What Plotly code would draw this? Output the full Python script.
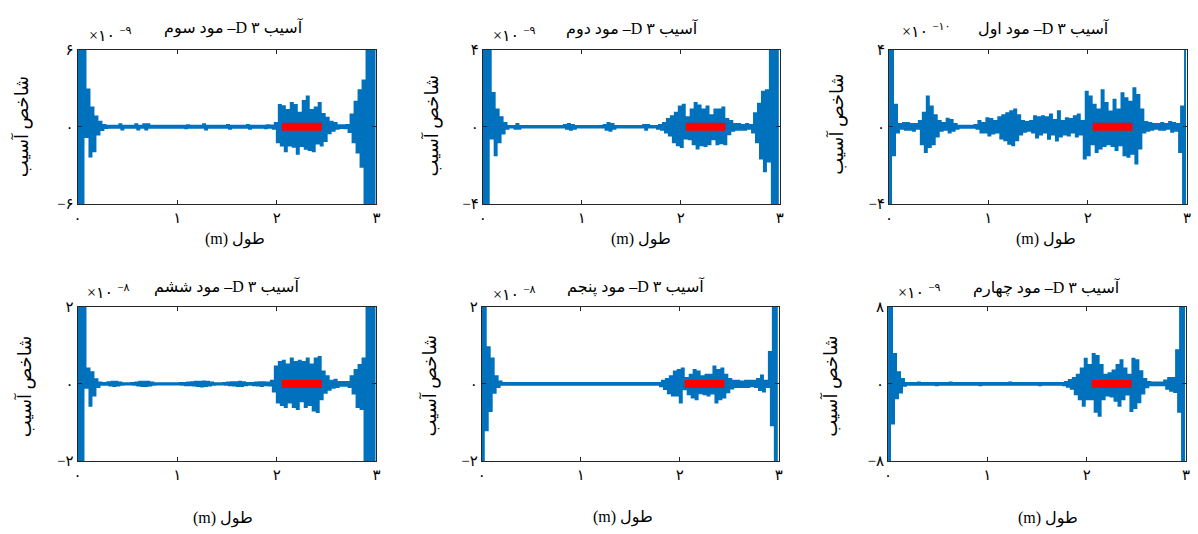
import numpy as np
import plotly.graph_objects as go

W, H = 1198, 534

# ---------------- data (values in units of the panel exponent) ----------------
STEP = 0.02  # sampling step along the beam (m)

mode3_vals = [
    9, -9, 9, -9, 9, -0.8, 2.9, -2.3, 1.5, -1.9,
    0.8, -0.6, 0.4, -0.25, 0.15, -0.1, 0.08, -0.08, 0.08, -0.08,
    0.08, -0.08, 0.2, -0.2, 0.08, -0.08, 0.08, -0.08, 0.08, -0.08,
    0.2, -0.2, 0.08, -0.08, 0.2, -0.2, 0.2, -0.08, 0.08, -0.08,
    0.08, -0.08, 0.08, -0.08, 0.08, -0.08, 0.08, -0.08, 0.08, -0.08,
    0.08, -0.08, 0.08, -0.08, 0.08, -0.12, 0.12, -0.08, 0.08, -0.08,
    0.08, -0.08, 0.08, -0.08, 0.2, -0.2, 0.08, -0.08, 0.08, -0.08,
    0.08, -0.08, 0.08, -0.08, 0.08, -0.08, 0.15, -0.15, 0.08, -0.08,
    0.08, -0.08, 0.08, -0.08, 0.08, -0.08, 0.15, -0.15, 0.08, -0.08,
    0.08, -0.08, 0.08, -0.08, 0.08, -0.12, 0.12, -0.08, 0.1, -0.15,
    0.3, -1.2, 1.7, -1.45, 1.6, -1.9, 1.3, -1.45, 1.85, -1.55,
    1.7, -2.1, 1.1, -1.5, 2.0, -1.7, 2.35, -1.8, 1.3, -1.9,
    1.5, -1.3, 1.85, -1.45, 1.0, -1.1, 0.7, -0.5, 0.4, -0.3,
    0.3, -0.15, 0.12, -0.1, 0.12, -0.12, 0.15, -0.4, 0.95, -1.2,
    1.95, -2.0, 2.85, -3.1, 3.6, -9, 9, -9, 9, -9,
    9,
]

mode2_vals = [
    9, -9, 9, -9, 9, -0.6, 1.75, -1.47, 0.9, -0.8,
    0.5, -0.35, 0.2, -0.1, 0.04, -0.04, 0.04, -0.1, 0.15, -0.1,
    0.04, -0.04, 0.04, -0.04, 0.04, -0.04, 0.04, -0.04, 0.04, -0.04,
    0.04, -0.04, 0.04, -0.04, 0.04, -0.04, 0.04, -0.04, 0.04, -0.04,
    0.04, -0.04, 0.1, -0.1, 0.15, -0.15, 0.1, -0.1, 0.04, -0.04,
    0.04, -0.04, 0.04, -0.04, 0.04, -0.04, 0.04, -0.04, 0.04, -0.04,
    0.04, -0.04, 0.1, -0.15, 0.2, -0.2, 0.15, -0.1, 0.04, -0.04,
    0.04, -0.04, 0.04, -0.04, 0.04, -0.04, 0.04, -0.04, 0.04, -0.04,
    0.04, -0.04, 0.1, -0.15, 0.1, -0.04, 0.04, -0.04, 0.04, -0.1,
    0.1, -0.15, 0.2, -0.3, 0.4, -0.45, 0.55, -0.8, 0.73, -0.96,
    1.06, -1.05, 1.15, -0.6, 0.5, -0.65, 0.9, -0.9, 1.23, -1.13,
    1.1, -0.96, 0.9, -1.0, 1.06, -0.9, 0.6, -0.65, 0.9, -0.9,
    0.9, -0.85, 1.0, -0.9, 0.4, -0.38, 0.3, -0.2, 0.15, -0.15,
    0.15, -0.15, 0.1, -0.15, 0.15, -0.1, 0.1, -0.3, 0.7, -0.8,
    1.2, -1.64, 1.82, -2.3, 1.9, -1.8, 9, -9, 9, -9,
    9,
]

mode1_vals = [
    9, -9, 9, -1.47, 1.15, -0.3, 0.15, -0.1, 0.2, -0.15,
    0.2, -0.15, 0.15, -0.2, 0.15, -0.1, 0.3, -0.9, 0.73, -1.3,
    1.57, -1.05, 1.06, -0.9, 0.6, -0.5, 0.3, -0.2, 0.2, -0.15,
    0.42, -0.29, 0.35, -0.2, 0.15, -0.1, 0.05, -0.05, 0.05, -0.05,
    0.05, -0.05, 0.05, -0.05, 0.1, -0.1, 0.3, -0.3, 0.2, -0.3,
    0.45, -0.45, 0.4, -0.35, 0.3, -0.3, 0.5, -0.6, 0.6, -0.7,
    0.7, -0.88, 0.81, -0.96, 0.9, -0.7, 0.6, -0.4, 0.3, -0.25,
    0.25, -0.2, 0.3, -0.3, 0.55, -0.55, 0.5, -0.4, 0.55, -0.3,
    0.5, -0.62, 0.64, -0.4, 0.35, -0.71, 0.81, -0.5, 0.3, -0.4,
    0.45, -0.45, 0.4, -0.3, 0.55, -0.5, 0.64, -0.4, 0.3, -1.64,
    1.82, -1.47, 1.57, -0.9, 1.15, -1.3, 0.9, -1.13, 1.9, -1.0,
    1.23, -0.9, 0.8, -1.0, 1.4, -1.2, 0.9, -0.95, 1.74, -1.47,
    1.48, -1.55, 1.3, -1.4, 2.0, -1.9, 1.65, -1.13, 0.9, -0.3,
    0.25, -0.2, 0.2, -0.15, 0.15, -0.1, 0.15, -0.15, 0.2, -0.15,
    0.15, -0.1, 0.25, -0.25, 0.2, -0.2, 0.15, -1.3, 1.06, -9,
    9,
]

mode6_vals = [
    9, -9, 9, -9, 9, -0.1, 0.4, -0.57, 0.3, -0.3,
    0.12, -0.08, 0.035, -0.025, 0.025, -0.025, 0.045, -0.045, 0.055, -0.055,
    0.055, -0.045, 0.035, -0.025, 0.015, -0.015, 0.015, -0.015, 0.025, -0.025,
    0.035, -0.045, 0.055, -0.055, 0.055, -0.055, 0.055, -0.045, 0.035, -0.025,
    0.015, -0.015, 0.015, -0.015, 0.015, -0.015, 0.015, -0.015, 0.015, -0.015,
    0.015, -0.015, 0.025, -0.025, 0.025, -0.035, 0.035, -0.035, 0.045, -0.045,
    0.055, -0.055, 0.055, -0.065, 0.065, -0.055, 0.055, -0.045, 0.035, -0.025,
    0.015, -0.015, 0.015, -0.015, 0.025, -0.025, 0.035, -0.035, 0.045, -0.045,
    0.045, -0.055, 0.055, -0.055, 0.045, -0.035, 0.025, -0.025, 0.025, -0.035,
    0.035, -0.045, 0.045, -0.055, 0.045, -0.035, 0.035, -0.045, 0.08, -0.2,
    0.45, -0.48, 0.57, -0.55, 0.6, -0.6, 0.5, -0.48, 0.66, -0.6,
    0.57, -0.65, 0.6, -0.45, 0.57, -0.6, 0.66, -0.55, 0.5, -0.69,
    0.66, -0.73, 0.7, -0.4, 0.32, -0.23, 0.2, -0.15, 0.08, -0.1,
    0.11, -0.08, 0.05, -0.05, 0.05, -0.05, 0.05, -0.08, 0.2, -0.25,
    0.36, -0.6, 0.49, -0.65, 0.66, -9, 9, -9, 9, -9,
    9,
]

mode5_vals = [
    9, -9, 9, -1.2, 0.95, -0.7, 0.66, -0.23, 0.2, -0.08,
    0.06, -0.025, 0.025, -0.025, 0.025, -0.025, 0.025, -0.025, 0.025, -0.025,
    0.025, -0.025, 0.025, -0.025, 0.025, -0.025, 0.025, -0.025, 0.025, -0.025,
    0.025, -0.025, 0.025, -0.025, 0.025, -0.025, 0.025, -0.025, 0.025, -0.025,
    0.025, -0.025, 0.025, -0.025, 0.025, -0.025, 0.025, -0.025, 0.025, -0.025,
    0.025, -0.025, 0.025, -0.025, 0.025, -0.025, 0.025, -0.025, 0.025, -0.025,
    0.025, -0.025, 0.025, -0.025, 0.025, -0.025, 0.025, -0.025, 0.025, -0.025,
    0.025, -0.025, 0.025, -0.025, 0.025, -0.025, 0.025, -0.025, 0.025, -0.025,
    0.025, -0.025, 0.025, -0.025, 0.025, -0.025, 0.025, -0.025, 0.025, -0.025,
    0.025, -0.06, 0.08, -0.13, 0.13, -0.24, 0.2, -0.3, 0.32, -0.3,
    0.36, -0.48, 0.4, -0.14, 0.15, -0.27, 0.24, -0.35, 0.36, -0.4,
    0.32, -0.24, 0.2, -0.27, 0.24, -0.3, 0.24, -0.25, 0.45, -0.48,
    0.36, -0.4, 0.4, -0.35, 0.24, -0.22, 0.13, -0.12, 0.08, -0.08,
    0.08, -0.08, 0.06, -0.08, 0.08, -0.08, 0.08, -0.06, 0.08, -0.08,
    0.13, -0.16, 0.22, -0.2, 0.08, -0.08, 0.83, -1.07, 9, -9,
    9,
]

mode4_vals = [
    20, -20, 20, -4.1, 3.1, -1.5, 1.2, -0.9, 0.5, -0.2,
    0.1, -0.1, 0.1, -0.1, 0.1, -0.1, 0.15, -0.1, 0.1, -0.1,
    0.1, -0.1, 0.1, -0.1, 0.1, -0.15, 0.1, -0.1, 0.1, -0.1,
    0.1, -0.1, 0.15, -0.1, 0.1, -0.1, 0.1, -0.1, 0.1, -0.1,
    0.1, -0.1, 0.1, -0.1, 0.1, -0.1, 0.1, -0.15, 0.1, -0.1,
    0.1, -0.1, 0.1, -0.1, 0.1, -0.1, 0.1, -0.1, 0.1, -0.1,
    0.1, -0.1, 0.15, -0.1, 0.1, -0.1, 0.1, -0.1, 0.1, -0.1,
    0.1, -0.1, 0.1, -0.1, 0.1, -0.1, 0.1, -0.15, 0.1, -0.1,
    0.1, -0.1, 0.1, -0.1, 0.1, -0.1, 0.1, -0.1, 0.1, -0.15,
    0.2, -0.3, 0.4, -0.5, 0.6, -1.08, 0.94, -1.6, 1.6, -2.26,
    2.6, -1.6, 1.96, -1.6, 3.1, -2.9, 2.9, -3.3, 1.96, -1.6,
    0.94, -1.2, 1.1, -1.3, 1.4, -1.75, 1.96, -2.26, 2.46, -1.6,
    1.6, -1.1, 0.94, -2.8, 2.6, -2.5, 2.46, -1.9, 1.3, -1.0,
    0.5, -0.35, 0.2, -0.15, 0.15, -0.15, 0.15, -0.15, 0.15, -0.15,
    0.35, -0.5, 0.6, -0.7, 0.6, -0.85, 3.5, -2.9, 20, -20,
    20,
]

# panel order: top row (mode 3, 2, 1), bottom row (mode 6, 5, 4)
panel_values = [mode3_vals, mode2_vals, mode1_vals, mode6_vals, mode5_vals, mode4_vals]
panel_titles = ["آسیب ۳ D– مود سوم", "آسیب ۳ D– مود دوم", "آسیب ۳ D– مود اول",
                "آسیب ۳ D– مود ششم", "آسیب ۳ D– مود پنجم", "آسیب ۳ D– مود چهارم"]
panel_limits = [6, 4, 4, 2, 2, 8]
limit_labels = ["۶", "۴", "۴", "۲", "۲", "۸"]
exponent_labels = ["−۹", "−۹", "−۱۰", "−۸", "−۸", "−۹"]

x_tick_vals = [0, 1, 2, 3]
x_tick_text = ["۰", "۱", "۲", "۳"]

damage_start, damage_end = 2.05, 2.45

y_title = "شاخص آسیب"
x_title = "طول (m)"

# ---------------- layout geometry (pixels) ----------------
boxes = [(74, 375, 43, 202), (482, 781, 43, 202), (891, 1191, 43, 202),
         (74, 375, 308, 467), (481, 780, 308, 467), (890, 1190, 308, 467)]
title_pos = [(232, 21), (633, 22), (1047, 22), (224, 288), (636, 288), (1050, 289)]
exp_pos = [(84, 27), (490, 27), (902, 23), (82, 292), (490, 294), (898, 292)]
xtitle_pos = [(233, 239), (641, 239), (1049, 239), (220, 526), (623, 525), (1051, 526)]
ytitle_pos = [(17, 122), (430, 122), (838, 120), (20, 390), (428, 390), (832, 390)]

BLUE = "#0072BD"
AX = "#262626"
FONT = "Liberation Serif, DejaVu Sans, serif"
LRM = "\u200e"


def rtl(s):
    return "\u202b" + s + "\u202c"


def px(x):
    return x / W


def py(y):
    return 1 - y / H


fig = go.Figure()
annotations = []

for i, vals in enumerate(panel_values):
    n = i + 1
    xs = np.round(np.arange(len(vals)) * STEP, 2)
    xa = "x" if n == 1 else f"x{n}"
    ya = "y" if n == 1 else f"y{n}"
    fig.add_trace(go.Scatter(x=xs, y=vals, mode="lines",
                             line=dict(color=BLUE, width=2, shape="vh"),
                             xaxis=xa, yaxis=ya, showlegend=False, hoverinfo="skip"))
    fig.add_trace(go.Scatter(x=[damage_start, damage_end], y=[0, 0], mode="lines",
                             line=dict(color="#FF0000", width=8),
                             xaxis=xa, yaxis=ya, showlegend=False, hoverinfo="skip"))

    l, r, t, b = boxes[i]
    R = panel_limits[i]
    axkey = "xaxis" if n == 1 else f"xaxis{n}"
    aykey = "yaxis" if n == 1 else f"yaxis{n}"
    fig.layout[axkey] = dict(
        domain=[px(l), px(r)], anchor=ya, range=[0, 3],
        tickvals=x_tick_vals, ticktext=x_tick_text,
        ticks="inside", ticklen=4, tickcolor=AX, tickwidth=1,
        showline=True, linecolor=AX, linewidth=1, mirror="ticks",
        showgrid=False, zeroline=False,
        tickfont=dict(family=FONT, size=15, color="black"),
    )
    fig.layout[aykey] = dict(
        domain=[py(b), py(t)], anchor=xa, range=[-R, R],
        tickvals=[-R, 0, R],
        ticktext=["−" + limit_labels[i], "۰", limit_labels[i]],
        ticks="inside", ticklen=4, tickcolor=AX, tickwidth=1,
        showline=True, linecolor=AX, linewidth=1, mirror="ticks",
        showgrid=False, zeroline=False,
        tickfont=dict(family=FONT, size=15, color="black"),
    )

    tx, ty = title_pos[i]
    annotations.append(dict(text=rtl(panel_titles[i]), x=px(tx), y=py(ty),
                            xref="paper", yref="paper", xanchor="center", yanchor="middle",
                            showarrow=False, font=dict(family=FONT, size=16, color="black")))
    ex, ey = exp_pos[i]
    annotations.append(dict(text="×۱۰" + LRM + " <sup>" + LRM + exponent_labels[i] + "</sup>",
                            x=px(ex), y=py(ey), xref="paper", yref="paper",
                            xanchor="left", yanchor="middle", showarrow=False,
                            font=dict(family=FONT, size=16, color="black")))
    xx, xy = xtitle_pos[i]
    annotations.append(dict(text=rtl(x_title), x=px(xx), y=py(xy),
                            xref="paper", yref="paper", xanchor="center", yanchor="middle",
                            showarrow=False, font=dict(family=FONT, size=16, color="black")))
    yx, yy = ytitle_pos[i]
    annotations.append(dict(text=rtl(y_title), x=px(yx), y=py(yy), textangle=-90,
                            xref="paper", yref="paper", xanchor="center", yanchor="middle",
                            showarrow=False, font=dict(family=FONT, size=18, color="black")))

fig.update_layout(
    width=W, height=H,
    margin=dict(l=0, r=0, t=0, b=0),
    paper_bgcolor="white", plot_bgcolor="white",
    annotations=annotations,
    showlegend=False,
)

fig.write_html(
    "out.html",
    config={"displayModeBar": False},
    post_script="document.body.style.margin='0px';"
                "document.body.style.overflow='hidden';"
                "document.documentElement.style.overflow='hidden';",
)
